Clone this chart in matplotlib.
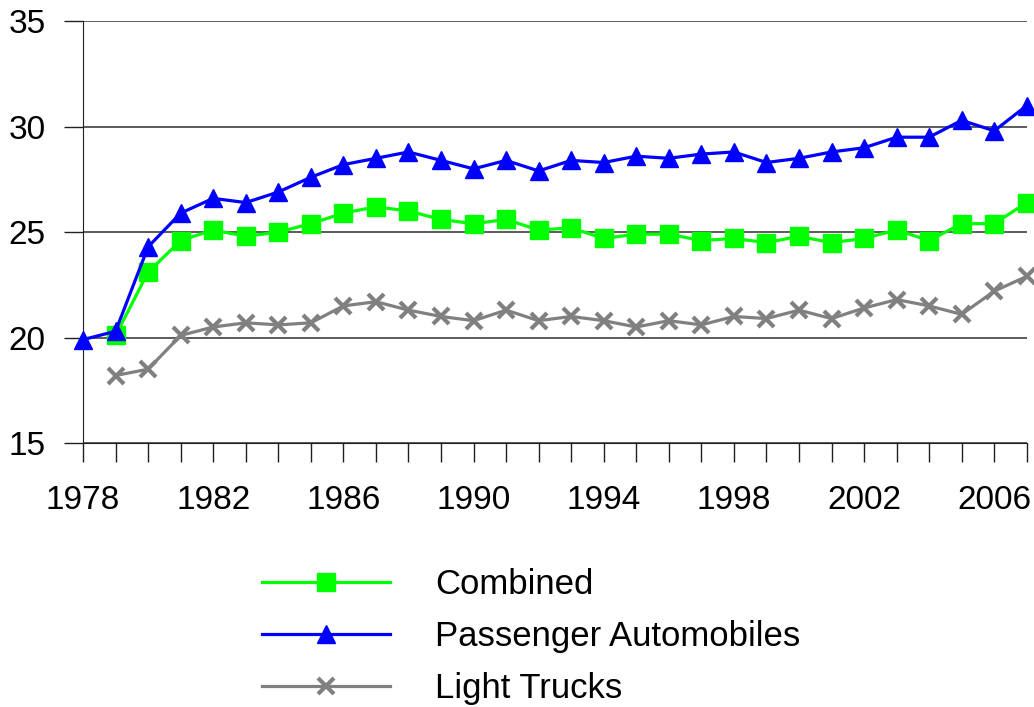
import matplotlib
matplotlib.use("Agg")
import matplotlib.pyplot as plt

plt.rcParams['font.family'] = ['Liberation Sans', 'DejaVu Sans']

# ---- data ----
years = list(range(1978, 2008))
passenger = [19.9, 20.3, 24.3, 25.9, 26.6, 26.4, 26.9, 27.6, 28.2, 28.5,
             28.8, 28.4, 28.0, 28.4, 27.9, 28.4, 28.3, 28.6, 28.5, 28.7,
             28.8, 28.3, 28.5, 28.8, 29.0, 29.5, 29.5, 30.3, 29.8, 31.0]
combined_years = list(range(1979, 2008))
combined = [20.1, 23.1, 24.6, 25.1, 24.8, 25.0, 25.4, 25.9, 26.2, 26.0,
            25.6, 25.4, 25.6, 25.1, 25.2, 24.7, 24.9, 24.9, 24.6, 24.7,
            24.5, 24.8, 24.5, 24.7, 25.1, 24.6, 25.4, 25.4, 26.4]
trucks = [18.2, 18.5, 20.1, 20.5, 20.7, 20.6, 20.7, 21.5, 21.7, 21.3,
          21.0, 20.8, 21.3, 20.8, 21.0, 20.8, 20.5, 20.8, 20.6, 21.0,
          20.9, 21.3, 20.9, 21.4, 21.8, 21.5, 21.1, 22.2, 22.9]
xtick_labels = [1978, 1982, 1986, 1990, 1994, 1998, 2002, 2006]

fig = plt.figure(figsize=(10.34, 7.07), dpi=100)
ax = fig.add_axes([0.0803, 0.3734, 0.9127, 0.5966])

ax.plot(combined_years, combined, color='#00FF00', lw=2.3, marker='s', ms=13,
        label='Combined', clip_on=False, zorder=3)
ax.plot(years, passenger, color='#0000FF', lw=2.3, marker='^', ms=13,
        label='Passenger Automobiles', clip_on=False, zorder=4)
ax.plot(combined_years, trucks, color='#808080', lw=2.3, marker='x', ms=11, mew=3,
        label='Light Trucks', clip_on=False, zorder=3)

ax.set_xlim(1978, 2007)
ax.set_ylim(15, 35)
ax.set_yticks([15, 20, 25, 30, 35])
ax.set_xticks(years, minor=True)
ax.set_xticks(xtick_labels)
ax.yaxis.grid(True, color='#404040', lw=1.2)
ax.set_axisbelow(True)

for s in ['top', 'right']:
    ax.spines[s].set_visible(False)
ax.spines['left'].set_color('#202020')
ax.spines['bottom'].set_color('#202020')

ax.tick_params(axis='y', length=14, width=1, direction='out', labelsize=24, pad=13, color='#202020')
ax.tick_params(axis='x', which='both', length=14, width=1, direction='out', color='#202020')
ax.tick_params(axis='x', which='major', labelsize=24, pad=16)

fig.legend(loc='upper left', bbox_to_anchor=(0.253, 0.197), frameon=False,
           fontsize=25, handlelength=3.7, handletextpad=1.3, labelspacing=0.55,
           borderpad=0, borderaxespad=0)

fig.savefig('out.png', dpi=100)
